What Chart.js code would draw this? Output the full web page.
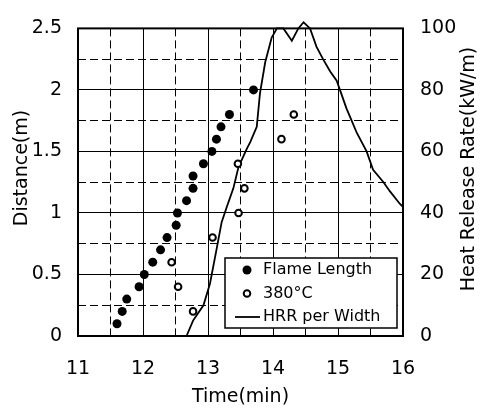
<!DOCTYPE html>
<html>
<head>
<meta charset="utf-8">
<script src="https://cdn.jsdelivr.net/npm/chart.js@4/dist/chart.umd.min.js"></script>
<style>
  html, body { margin: 0; padding: 0; background: #fff; }
</style>
</head>
<body>
<canvas id="chart" width="487" height="410"></canvas>
<script>
// Data
const flameTime = [11.6, 11.68, 11.75, 11.94, 12.02, 12.15, 12.27, 12.37, 12.51, 12.53, 12.67, 12.77, 12.77, 12.93, 13.06, 13.13, 13.2, 13.33, 13.7];
const flameDist = [0.1, 0.2, 0.3, 0.4, 0.5, 0.6, 0.7, 0.8, 0.9, 1.0, 1.1, 1.2, 1.3, 1.4, 1.5, 1.6, 1.7, 1.8, 2.0];

const tempTime = [12.77, 12.54, 12.44, 13.07, 13.47, 13.56, 13.46, 14.13, 14.32];
const tempDist = [0.2, 0.4, 0.6, 0.8, 1.0, 1.2, 1.4, 1.6, 1.8];

const hrrTime = [12.67, 12.77, 12.93, 13.03, 13.13, 13.21, 13.29, 13.39, 13.47, 13.6, 13.65, 13.75, 13.8, 13.88, 13.98, 14.06, 14.16, 14.29, 14.39, 14.47, 14.57, 14.67, 14.77, 14.88, 14.98, 15.03, 15.13, 15.21, 15.29, 15.44, 15.54, 15.7, 15.8, 15.95, 16.0];
const hrrValue = [0, 5, 10, 17, 28, 37, 42, 48, 55, 61, 63, 68, 79, 89, 97, 100, 100, 96, 100, 102, 100, 94, 90, 86, 83, 80, 74, 70, 66, 60, 54, 50, 47, 43, 42];

const seriesNames = ['Flame Length', '380°C', 'HRR per Width'];
const xTitle = 'Time(min)';
const yTitle = 'Distance(m)';
const y1Title = 'Heat Release Rate(kW/m)';

const FONT = '"DejaVu Sans", sans-serif';

function toPoints(xs, ys) {
    return xs.map((x, i) => ({ x: x, y: ys[i] }));
}

// frame, axis titles and boxed legend
const decorPlugin = {
    id: 'decor',
    afterDraw(chart) {
        const ctx = chart.ctx;
        const ca = chart.chartArea;
        ctx.save();

        // plot frame
        ctx.strokeStyle = '#000';
        ctx.lineWidth = 2;
        ctx.strokeRect(ca.left, ca.top, ca.right - ca.left, ca.bottom - ca.top);

        // titles
        ctx.fillStyle = '#000';
        ctx.font = '19px ' + FONT;
        ctx.textAlign = 'center';
        ctx.textBaseline = 'middle';
        ctx.fillText(xTitle, (ca.left + ca.right) / 2, 397);

        ctx.save();
        ctx.translate(22, 168);
        ctx.rotate(-Math.PI / 2);
        ctx.fillText(yTitle, 0, 0);
        ctx.restore();

        ctx.save();
        ctx.translate(469, 169);
        ctx.rotate(-Math.PI / 2);
        ctx.fillText(y1Title, 0, 0);
        ctx.restore();

        // legend
        const bx = ca.right - 6 - 172, by = ca.bottom - 8 - 70;
        ctx.fillStyle = '#fff';
        ctx.fillRect(bx, by, 172, 70);
        ctx.lineWidth = 1.5;
        ctx.strokeRect(bx, by, 172, 70);

        const rows = [by + 12, by + 35.5, by + 59];
        ctx.fillStyle = '#000';
        ctx.beginPath();
        ctx.arc(bx + 22, rows[0], 4.5, 0, Math.PI * 2);
        ctx.fill();

        ctx.beginPath();
        ctx.arc(bx + 22, rows[1], 3.3, 0, Math.PI * 2);
        ctx.fillStyle = '#fff';
        ctx.fill();
        ctx.lineWidth = 2;
        ctx.stroke();

        ctx.beginPath();
        ctx.lineWidth = 1.8;
        ctx.moveTo(bx + 10, rows[2]);
        ctx.lineTo(bx + 35, rows[2]);
        ctx.stroke();

        ctx.fillStyle = '#000';
        ctx.font = '16px ' + FONT;
        ctx.textAlign = 'left';
        seriesNames.forEach((name, i) => {
            ctx.fillText(name, bx + 38, rows[i]);
        });

        ctx.restore();
    }
};

const isHalfStep = v => Math.abs(v * 2 - Math.round(v * 2)) > 1e-6;
const isIntStep = v => Math.abs(v - Math.round(v)) > 1e-6;

new Chart(document.getElementById('chart'), {
    type: 'scatter',
    data: {
        datasets: [
            {
                label: seriesNames[0],
                data: toPoints(flameTime, flameDist),
                xAxisID: 'x',
                yAxisID: 'y',
                pointRadius: 4.5,
                backgroundColor: '#000',
                borderColor: '#000',
                borderWidth: 0,
                clip: false
            },
            {
                label: seriesNames[1],
                data: toPoints(tempTime, tempDist),
                xAxisID: 'x',
                yAxisID: 'y',
                pointRadius: 3.3,
                backgroundColor: '#fff',
                borderColor: '#000',
                borderWidth: 2,
                clip: false
            },
            {
                label: seriesNames[2],
                data: toPoints(hrrTime, hrrValue),
                xAxisID: 'x',
                yAxisID: 'y1',
                showLine: true,
                pointRadius: 0,
                borderColor: '#000',
                borderWidth: 1.8,
                tension: 0,
                clip: false
            }
        ]
    },
    options: {
        responsive: false,
        animation: false,
        layout: { padding: { top: 15, left: 0, right: 0, bottom: 0 } },
        plugins: {
            legend: { display: false },
            tooltip: { enabled: false }
        },
        scales: {
            x: {
                type: 'linear',
                position: 'bottom',
                min: 11,
                max: 16,
                ticks: {
                    stepSize: 1,
                    color: '#000',
                    font: { family: FONT, size: 19 },
                    padding: 22,
                    callback: v => String(v)
                },
                grid: { color: '#000', lineWidth: 1, drawTicks: false },
                border: { display: false },
                afterFit: s => { s.height = 74; }
            },
            x2: {
                type: 'linear',
                position: 'bottom',
                min: 11,
                max: 16,
                ticks: { display: false, stepSize: 0.5 },
                afterBuildTicks: s => { s.ticks = s.ticks.filter(t => isIntStep(t.value)); },
                grid: { color: '#000', lineWidth: 1, drawTicks: false },
                border: { display: false, dash: [8, 4] },
                afterFit: s => { s.height = 0; }
            },
            y: {
                type: 'linear',
                position: 'left',
                min: 0,
                max: 2.5,
                ticks: {
                    stepSize: 0.5,
                    color: '#000',
                    font: { family: FONT, size: 19 },
                    padding: 16,
                    callback: v => String(v)
                },
                grid: { color: '#000', lineWidth: 1, drawTicks: false },
                border: { display: false },
                afterFit: s => { s.width = 78; }
            },
            y2: {
                type: 'linear',
                position: 'left',
                min: 0,
                max: 2.5,
                ticks: { display: false, stepSize: 0.25 },
                afterBuildTicks: s => { s.ticks = s.ticks.filter(t => isHalfStep(t.value)); },
                grid: { color: '#000', lineWidth: 1, drawTicks: false },
                border: { display: false, dash: [8, 4] },
                afterFit: s => { s.width = 0; }
            },
            y1: {
                type: 'linear',
                position: 'right',
                min: 0,
                max: 100,
                ticks: {
                    stepSize: 20,
                    color: '#000',
                    font: { family: FONT, size: 19 },
                    padding: 17,
                    callback: v => String(v)
                },
                grid: { drawOnChartArea: false, drawTicks: false },
                border: { display: false },
                afterFit: s => { s.width = 84; }
            }
        }
    },
    plugins: [decorPlugin]
});
</script>
</body>
</html>
